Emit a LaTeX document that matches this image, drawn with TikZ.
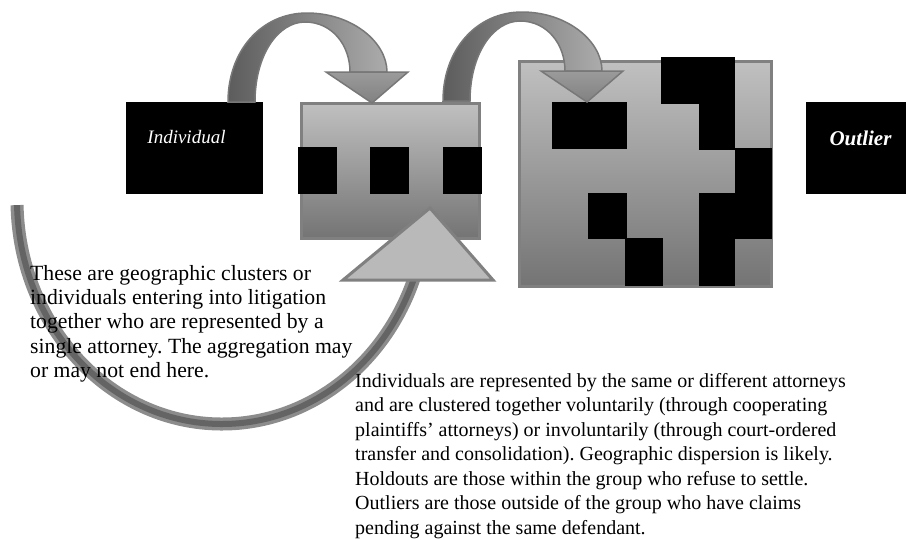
\documentclass[tikz,border=0pt]{standalone}
\usepackage{fontspec}
\setmainfont{Liberation Serif}
\usetikzlibrary{positioning}
\definecolor{boxtop}{RGB}{192,192,192}
\definecolor{boxbottom}{RGB}{116,116,116}
\definecolor{boxedge}{RGB}{128,128,128}
\definecolor{arrowdark}{RGB}{92,92,92}
\definecolor{arrowlight}{RGB}{172,172,172}
\definecolor{arrowedge}{RGB}{120,120,120}
\definecolor{headfill}{RGB}{185,185,185}
\definecolor{arcedge}{RGB}{140,140,140}
\definecolor{arcdark}{RGB}{100,100,100}

\begin{document}
\frenchspacing
\begin{tikzpicture}[x=1pt, y=-1pt,
    blackbox/.style={fill=black, inner sep=0, outer sep=0},
    graybox/.style={draw=boxedge, line width=3, top color=boxtop, bottom color=boxbottom, inner sep=0},
    shaft/.style={draw=arrowedge, line width=1.5, left color=arrowdark, right color=arrowlight},
    arrowhead/.style={draw=arrowedge, line width=1.5, top color=arrowlight!90!black, bottom color=arrowlight!75!black},
    desc/.style={align=left, inner sep=0}]
    \useasboundingbox (0,0) rectangle (906,539);

    %% return arc behind everything
    \foreach \lw/\col in {13/arcedge, 6/arcdark}
      \draw[line width=\lw, draw=\col] (17.05,205.1) arc[start angle=178.7, end angle=19, x radius=205, y radius=224];

    %% boxes
    \node[blackbox, minimum width=137, minimum height=92] (individual) at (194.5,148) {};
    \node[graybox, minimum width=178, minimum height=135] (cluster) at (390,170.5) {};
    \node[graybox, minimum width=252, minimum height=225] (group) at (645,173.5) {};
    \node[blackbox, minimum width=100, minimum height=92] (outlier) at (856,148) {};

    \foreach \nm/\cx in {member1/317.5, member2/389.5, member3/462}
      \node[blackbox, minimum width=39, minimum height=47] (\nm) at (\cx,170.5) {};

    \foreach \nm/\cx/\cy/\w/\h in {groupa/589.5/125.5/75/47, groupb/680/80.5/38/47, groupc/717/103.5/36/93,
        groupd/753.5/193.5/37/91, groupe/607.5/216/39/46, groupf/644/262/38/48, groupg/717/239.5/36/93}
      \node[blackbox, minimum width=\w, minimum height=\h] (\nm) at (\cx,\cy) {};

    %% head of the return arc
    \draw[draw=boxedge, line width=3, fill=headfill] (343,280) -- (430,208) -- (493,280) -- cycle;

    %% curved arrows on top
    \foreach \dx/\dy in {0/0, 215/-1}{
      \begin{scope}[shift={(\dx,\dy)}]
        \draw[shaft] (228,102) .. controls (228,50) and (262,13) .. (307,13)
          .. controls (352,13) and (387,42) .. (387,72) -- (350,72)
          .. controls (350,45) and (332,22) .. (305,22)
          .. controls (278,22) and (255,55) .. (255,102) -- cycle;
        \draw[arrowhead] (326,72) -- (408,72) -- (372,103) -- cycle;
      \end{scope}
    }

    %% labels
    \node[font=\fontsize{19}{20}\selectfont\itshape, text=white] (individuallabel) at (186.5,137) {Individual};
    \node[font=\fontsize{21}{22}\selectfont\bfseries\itshape, text=white] (outlierlabel) at (860.5,138) {Outlier};

    \node[desc, font=\fontsize{21.7}{24.3}\selectfont, anchor=north west] (clusternote) at (30,265) {These are geographic clusters or\\
      individuals entering into litigation\\ together who are represented by a\\
      single attorney. The aggregation may\\ or may not end here.};
    \node[desc, font=\fontsize{20}{24.5}\selectfont, anchor=north west] (groupnote) at (355,373) {Individuals are represented by the same or different attorneys\\
      and are clustered together voluntarily (through cooperating\\
      plaintiffs’ attorneys) or involuntarily (through court-ordered\\
      transfer and consolidation). Geographic dispersion is likely.\\
      Holdouts are those within the group who refuse to settle.\\
      Outliers are those outside of the group who have claims\\
      pending against the same defendant.};
\end{tikzpicture}
\end{document}
